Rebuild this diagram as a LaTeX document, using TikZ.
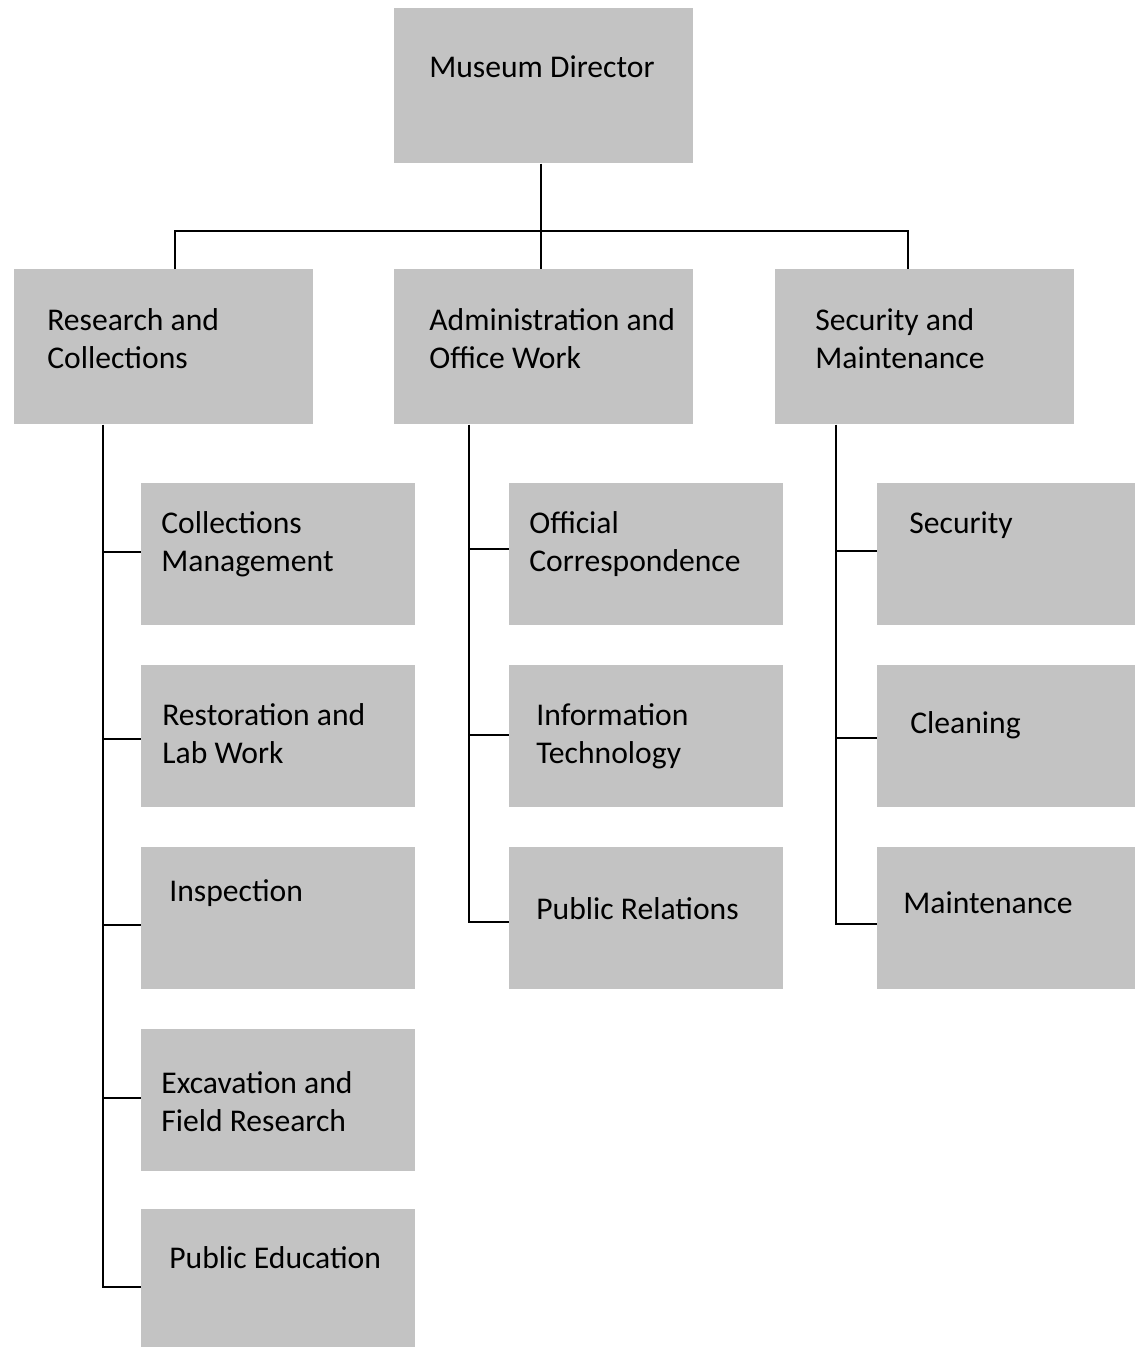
\documentclass[tikz,border=0pt]{standalone}
\usepackage{fontspec}
\setmainfont{Carlito}
\definecolor{boxgray}{RGB}{195,195,195}
\begin{document}
\begin{tikzpicture}[x=0.02cm, y=-0.02cm,
  unit/.style={fill=boxgray, anchor=north west, inner sep=0pt,
    minimum width=5.98cm, minimum height=3.1cm},
  subunit/.style={fill=boxgray, anchor=north west, inner sep=0pt,
    minimum width=5.48cm, minimum height=2.84cm},
  ulabel/.style={anchor=base west, inner sep=0pt, align=left,
    font=\fontsize{18}{21.6}\selectfont},
  link/.style={line width=1.1pt, black},
]
\useasboundingbox (0,0) rectangle (1135,1347);

% Top and department boxes
\node[unit] (dir) at (394,8) {};
\node[unit] (res) at (14,269) {};
\node[unit] (adm) at (394,269) {};
\node[unit] (sec) at (775,269) {};

\node[ulabel] at (429,77) {Museum Director};
\node[ulabel] at (47,368) {Research and\\Collections};
\node[ulabel] at (429,368) {Administration and\\Office Work};
\node[ulabel] at (815,368) {Security and\\Maintenance};

% Research and Collections
\node[subunit] (cm) at (141,483) {};
\node[subunit] (rest) at (141,665) {};
\node[subunit] (insp) at (141,847) {};
\node[subunit] (exc) at (141,1029) {};
\node[subunit] (pe) at (141,1209) {};
\node[ulabel] at (161,571) {Collections\\Management};
\node[ulabel] at (162,763) {Restoration and\\Lab Work};
\node[ulabel] at (169,901) {Inspection};
\node[ulabel] at (161,1131) {Excavation and\\Field Research};
\node[ulabel] at (169,1268) {Public Education};

% Administration and Office Work
\node[subunit] (oc) at (509,483) {};
\node[subunit] (it) at (509,665) {};
\node[subunit] (pr) at (509,847) {};
\node[ulabel] at (529,571) {Official\\Correspondence};
\node[ulabel] at (536,763) {Information\\Technology};
\node[ulabel] at (536,919) {Public Relations};

% Security and Maintenance
\node[subunit, minimum width=5.16cm] (guard) at (877,483) {};
\node[subunit, minimum width=5.16cm] (clean) at (877,665) {};
\node[subunit, minimum width=5.16cm] (maint) at (877,847) {};
\node[ulabel] at (909,533) {Security};
\node[ulabel] at (910,733) {Cleaning};
\node[ulabel] at (903,913) {Maintenance};

% Connectors
\coordinate (trunk) at (541,231);
\coordinate (busL) at (175,231);
\coordinate (busR) at (908,231);
\draw[link] (trunk |- dir.south) -- (trunk |- adm.north);
\draw[link] (busL |- res.north) -- (busL) -- (busR) -- (busR |- sec.north);

\coordinate (spineR) at (103,0);
\coordinate (spineA) at (469,0);
\coordinate (spineS) at (836,0);
\draw[link] (spineR |- res.south) |- ([yshift=-0.14cm]pe.west);
\draw[link] (spineA |- adm.south) |- ([yshift=-0.08cm]pr.west);
\draw[link] (spineS |- sec.south) |- ([yshift=-0.12cm]maint.west);
\foreach \n/\dy in {cm/0.04, rest/-0.06, insp/-0.14, exc/0.04} {
  \coordinate (tap) at ([yshift=\dy cm]\n.west);
  \draw[link] (spineR |- tap) -- (tap);
}
\foreach \n/\dy in {oc/0.1, it/0.02} {
  \coordinate (tap) at ([yshift=\dy cm]\n.west);
  \draw[link] (spineA |- tap) -- (tap);
}
\foreach \n/\dy in {guard/0.06, clean/-0.04} {
  \coordinate (tap) at ([yshift=\dy cm]\n.west);
  \draw[link] (spineS |- tap) -- (tap);
}
\end{tikzpicture}
\end{document}
